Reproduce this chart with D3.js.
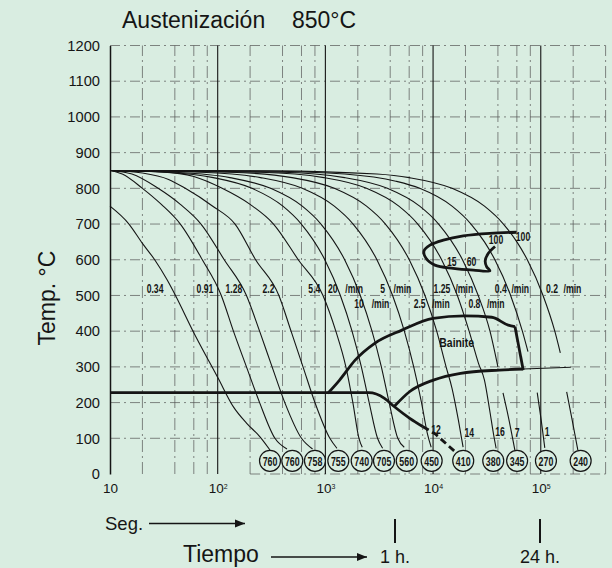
<!DOCTYPE html>
<html lang="es">
<head>
<meta charset="utf-8">
<title>Austenización 850°C</title>
<script src="https://cdn.jsdelivr.net/npm/d3@7"></script>
<style>
  body, html { margin: 0; padding: 0; background: #d9ede1; }
  svg { display: block; }
  .cond { font-family: "Liberation Sans", Arial, sans-serif; font-weight: bold; }
  .plain { font-family: "Liberation Sans", Arial, sans-serif; }
</style>
</head>
<body>
<svg id="chart" width="612" height="568"></svg>
<script>
// ---- data (time in s, temperature in °C) ----
const tempTicks = [0, 100, 200, 300, 400, 500, 600, 700, 800, 900, 1000, 1100, 1200];
const decadeTicks = [10, 100, 1000, 10000, 100000];
const minorTimes = [20, 40, 60, 80, 200, 400, 600, 800, 2000, 4000, 6000, 8000,
                    20000, 40000, 60000, 80000, 200000];

const hardness = [760, 760, 758, 755, 740, 705, 560, 450, 410, 380, 345, 270, 240];
const hardnessTime = [306, 493, 800, 1318, 2173, 3500, 5690, 9700, 19050, 36200, 60300, 111700, 234600];

const coolingCurves = [
  [[10,750],[15,700],[20,646],[26,600],[34,543],[41,497],[59,400],[85,310],[101,268],[140,188],[186,142],[247,104],[306,67]],
  [[10,850],[13,840],[20,800],[30,755],[45,700],[72,600],[108,500],[140,400],[185,300],[245,200],[340,100],[440,70]],
  [[10,850],[16,840],[28,800],[45,755],[70,700],[115,600],[185,500],[245,400],[320,300],[420,200],[600,100],[760,70]],
  [[10,850],[20,843],[35,825],[50,800],[90,750],[145,700],[225,600],[370,500],[480,400],[620,300],[800,200],[1100,100],[1280,72]],
  [[10,850],[30,846],[60,833],[110,800],[200,755],[330,700],[560,600],[950,500],[1250,400],[1550,300],[1800,200],[2050,100],[2200,75]],
  [[10,850],[33,845],[91,830],[208,800],[403,750],[598,700],[988,600],[1378,500],[1768,400],[2158,300],[2550,200],[3050,100],[3400,72]],
  [[10,850],[40,845],[130,830],[310,800],[610,750],[910,700],[1510,600],[2110,500],[2710,400],[3310,300],[3910,200],[4700,100],[5400,75]],
  [[10,850],[70,845],[250,830],[610,800],[1210,750],[1810,700],[3010,600],[4210,500],[5410,400],[6610,300],[7810,200],[8900,110],[9600,75]],
  [[10,850],[130,845],[490,830],[1210,800],[2410,750],[3610,700],[6010,600],[8410,500],[10810,400],[13210,300],[15000,240],[17200,150],[19000,75]],
  [[10,850],[250,845],[970,830],[2410,800],[4810,750],[7210,700],[12010,600],[16810,500],[21610,400],[26410,310],[30000,263],[33500,180],[36500,110],[38500,72]],
  [[10,850],[385,845],[1510,830],[3760,800],[7510,750],[11260,700],[18760,600],[26260,500],[33760,400],[40000,300],[42000,null],[44600,227],[50000,160],[57500,67]],
  [[10,850],[310,848],[1510,840],[4510,820],[7510,800],[15000,750],[22500,700],[30000,650],[37500,600],[52500,500],[67500,400],[76000,343],[85000,null],[92700,228],[101000,150],[109000,73]],
  [[10,850],[310,849],[3010,840],[6010,830],[15000,800],[30000,750],[45000,700],[60000,650],[75000,600],[105000,500],[135000,400],[152000,339],[165000,null],[174000,230],[196000,150],[221000,67]]
];

// transformation boundaries
const ferriteLoop = [[59700,677],[33700,674],[19050,667],[12450,655],[9360,641],[8240,625],[8600,604],[10400,585],
                     [15400,576],[23600,571],[33700,569],[31400,581],[30500,597],[32600,618],[37600,637]];
const bainiteStart = [[1055,226],[1355,263],[1890,319],[2870,366],[5140,403],[9980,436],[19580,443],[35100,439],[49900,417],[57600,413]];
const bainiteRight = [[57600,413],[68700,291]];
const bainiteFinish = [[4350,189],[6080,231],[10050,263],[18000,282],[41400,291],[68700,294]];
const bainiteTail = [[68700,294],[190000,299]];
const msLine = [[10,228],[2530,228],[3540,212],[4350,189],[6080,156],[8000,133]];
const msDashed = [[8000,133],[10500,112],[16500,59]];

// curve labels: text, time of the label centre
const labelRow1 = [["0.34",26.2],["0.91",76.2],["1.28",141.6],["2.2",296],["5.4",790],["20",1170],["5",3400],["1.25",12100],["0.4",42500],["0.2",127000]];
const minRow1 = [1850, 5200, 19500, 64500, 197000];
const labelRow2 = [["10",2050],["2.5",7500],["0.8",24200]];
const minRow2 = [3250, 11800, 38200];
const phaseLabels = [["15",14900,595],["60",22800,595],["100",38400,655],["100",68400,663],
                     ["12",10650,123],["14",21700,116],["16",41800,118],["7",60500,116],["1",114800,118]];

// ---- drawing ----
const W = 612, H = 568, bg = "#d9ede1", ink = "#151515";
const x = d3.scaleLog().domain([10, 4e5]).range([110, 605.6]);
const y = d3.scaleLinear().domain([0, 1200]).range([474, 45.5]);

const svg = d3.select("#chart");
svg.append("rect").attr("width", W).attr("height", H).attr("fill", bg);

// grid
const grid = svg.append("g");
grid.selectAll("line.h").data(tempTicks.filter(d => d > 0)).join("line")
    .attr("x1", x(10)).attr("x2", x(4e5))
    .attr("y1", d => y(d)).attr("y2", d => y(d))
    .attr("stroke", "#555").attr("stroke-width", 0.7).attr("stroke-dasharray", "10,4,2,4");
grid.append("line")
    .attr("x1", x(200)).attr("x2", x(4e5)).attr("y1", y(0)).attr("y2", y(0))
    .attr("stroke", "#555").attr("stroke-width", 0.7).attr("stroke-dasharray", "10,4,2,4");
grid.selectAll("line.v").data(minorTimes.concat([4e5])).join("line")
    .attr("x1", d => x(d)).attr("x2", d => x(d))
    .attr("y1", y(0)).attr("y2", y(1200))
    .attr("stroke", "#555").attr("stroke-width", 0.7).attr("stroke-dasharray", "12,4,2,4");
grid.selectAll("line.d").data(decadeTicks.slice(1)).join("line")
    .attr("x1", d => x(d)).attr("x2", d => x(d))
    .attr("y1", y(0)).attr("y2", y(1200))
    .attr("stroke", ink).attr("stroke-width", 1.1);

// y axis
const yAxis = svg.append("g")
    .attr("transform", `translate(${x(10)},0)`)
    .call(d3.axisLeft(y).tickValues(tempTicks).tickFormat(d3.format("d")).tickSize(0).tickPadding(10));
yAxis.select(".domain").attr("stroke", ink).attr("stroke-width", 1.5);
yAxis.selectAll("text").attr("class", "plain").attr("font-size", "14.7px").attr("fill", ink);

// x axis labels 10^n
const xAxis = svg.append("g")
    .attr("transform", `translate(0,${y(0)})`)
    .call(d3.axisBottom(x).tickValues(decadeTicks).tickSize(0).tickPadding(9));
xAxis.select(".domain").remove();
xAxis.selectAll("text").each(function(d) {
    const t = d3.select(this).attr("class", "plain").attr("font-size", "13.5px").attr("fill", ink).text("");
    t.append("tspan").text("10");
    if (d > 10) t.append("tspan").attr("dy", "-0.55em").attr("font-size", "7px").text(Math.round(Math.log10(d)));
});

// curves
const line = d3.line().x(d => x(d[0])).y(d => y(d[1])).defined(d => d[1] !== null).curve(d3.curveMonotoneX);
svg.append("g").selectAll("path").data(coolingCurves).join("path")
    .attr("d", line).attr("fill", "none").attr("stroke", ink).attr("stroke-width", 1.1);

const thick = (data, curve, dash) => svg.append("path")
    .attr("d", d3.line().x(d => x(d[0])).y(d => y(d[1])).curve(curve)(data))
    .attr("fill", "none").attr("stroke", ink).attr("stroke-width", 2.8)
    .attr("stroke-linejoin", "round").attr("stroke-dasharray", dash || null);
thick(ferriteLoop, d3.curveCatmullRom.alpha(0.5));
thick(bainiteStart, d3.curveMonotoneX);
thick(bainiteRight, d3.curveLinear);
thick(bainiteFinish, d3.curveMonotoneX);
thick(msLine, d3.curveMonotoneX);
thick(msDashed, d3.curveLinear, "7,4");
svg.append("path")
    .attr("d", d3.line().x(d => x(d[0])).y(d => y(d[1]))(bainiteTail))
    .attr("fill", "none").attr("stroke", ink).attr("stroke-width", 1.2);

// condensed text helper (horizontal squeeze)
function condText(g, px, py, txt, size, sx) {
    return g.append("text").attr("class", "cond")
        .attr("transform", `translate(${px},${py}) scale(${sx},1)`)
        .attr("text-anchor", "middle").attr("dy", "0.35em")
        .attr("font-size", size + "px").attr("fill", ink).text(txt);
}

// hardness circles
const hv = svg.append("g").selectAll("g").data(hardness).join("g")
    .attr("transform", (d, i) => `translate(${x(hardnessTime[i])},${y(37)})`);
hv.append("circle").attr("r", 10.5).attr("fill", bg).attr("stroke", ink).attr("stroke-width", 1.2);
hv.each(function(d) { condText(d3.select(this), 0, 0.5, d, 13, 0.68); });

// curve labels
const lab = svg.append("g");
labelRow1.forEach(d => condText(lab, x(d[1]), y(518), d[0], 12, 0.72));
minRow1.forEach(d => condText(lab, x(d), y(518), "/min", 12, 0.72));
labelRow2.forEach(d => condText(lab, x(d[1]), y(476), d[0], 12, 0.72));
minRow2.forEach(d => condText(lab, x(d), y(476), "/min", 12, 0.72));
phaseLabels.forEach(d => condText(lab, x(d[1]), y(d[2]), d[0], 12, 0.72));
condText(lab, x(16560), y(368), "Bainite", 13, 0.8);

// titles and time annotations
svg.append("text").attr("class", "plain").attr("x", 122).attr("y", 28)
    .attr("font-size", "23px").attr("fill", ink).text("Austenización");
svg.append("text").attr("class", "plain").attr("x", 292).attr("y", 28)
    .attr("font-size", "23px").attr("fill", ink).text("850°C");
svg.append("text").attr("class", "plain").attr("font-size", "23px").attr("fill", ink)
    .attr("text-anchor", "middle")
    .attr("transform", "translate(55,298) rotate(-90)").text("Temp. °C");

svg.append("defs").append("marker").attr("id", "arr")
    .attr("viewBox", "0 0 10 10").attr("refX", 10).attr("refY", 5)
    .attr("markerWidth", 10).attr("markerHeight", 10).attr("markerUnits", "userSpaceOnUse")
    .attr("orient", "auto")
    .append("path").attr("d", "M0,1 L10,5 L0,9 Z").attr("fill", ink);

svg.append("text").attr("class", "plain").attr("x", 105).attr("y", 530)
    .attr("font-size", "18.5px").attr("fill", ink).text("Seg.");
svg.append("line").attr("x1", 149).attr("x2", 245).attr("y1", 523.5).attr("y2", 523.5)
    .attr("stroke", ink).attr("stroke-width", 1.3).attr("marker-end", "url(#arr)");
svg.append("text").attr("class", "plain").attr("x", 183).attr("y", 562)
    .attr("font-size", "23px").attr("fill", ink).text("Tiempo");
svg.append("line").attr("x1", 271).attr("x2", 367).attr("y1", 557).attr("y2", 557)
    .attr("stroke", ink).attr("stroke-width", 1.3).attr("marker-end", "url(#arr)");

[[395, "1 h."], [540, "24 h."]].forEach(([px, t]) => {
    svg.append("line").attr("x1", px).attr("x2", px).attr("y1", 519).attr("y2", 543)
        .attr("stroke", ink).attr("stroke-width", 2);
    svg.append("text").attr("class", "plain").attr("x", px).attr("y", 563)
        .attr("text-anchor", "middle").attr("font-size", "18px").attr("fill", ink).text(t);
});
</script>
</body>
</html>
